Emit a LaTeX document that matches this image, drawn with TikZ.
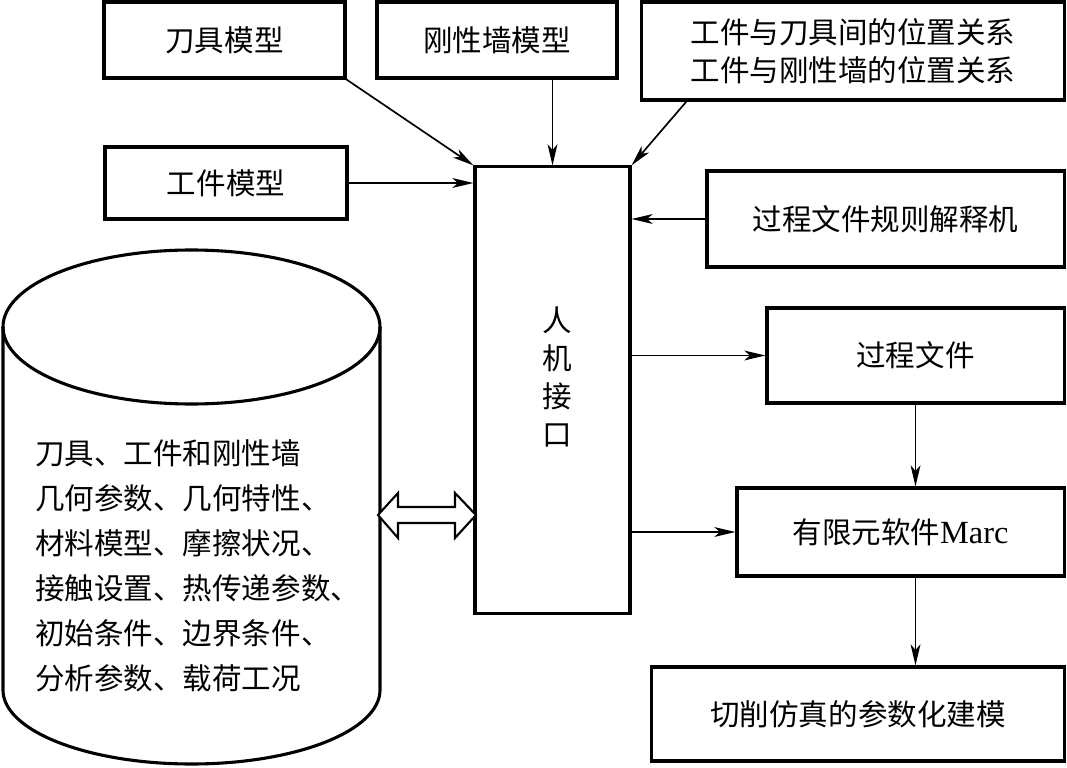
\documentclass[tikz,border=0pt]{standalone}
\usepackage{fontspec}
\setmainfont{Noto Sans CJK SC}
\newfontfamily\latin{Liberation Serif}
\usetikzlibrary{arrows.meta}

\tikzset{
  box/.style={draw, line width=2.2pt, inner sep=0pt, align=center,
    font=\fontsize{21}{27}\selectfont},
  link/.style={line width=1.2pt, -{Stealth[length=15pt, width=7pt, inset=4pt]}}
}

\begin{document}
\begin{tikzpicture}[x=0.025cm, y=-0.025cm]
    \useasboundingbox (0,0) rectangle (1067,768);

    \node[box, minimum width=6.025cm, minimum height=1.9cm]  (tool)  at (224.5, 40)  {刀具模型};
    \node[box, minimum width=6cm,     minimum height=1.9cm]  (wall)  at (497, 40)    {刚性墙模型};
    \node[box, minimum width=10.55cm, minimum height=2.45cm] (rel)   at (853, 51)    {工件与刀具间的位置关系\\工件与刚性墙的位置关系};
    \node[box, minimum width=6.05cm,  minimum height=1.8cm]  (work)  at (226, 183)   {工件模型};
    \node[box, minimum width=3.875cm, minimum height=11.15cm] (hmi)  at (552.5, 390) {};
    \node[font=\fontsize{21}{27}\selectfont, align=center] (hmitext) at (557, 377) {人\\机\\接\\口};
    \node[box, minimum width=8.925cm, minimum height=2.4cm]  (rule)  at (885.5, 219) {过程文件规则解释机};
    \node[box, minimum width=7.425cm, minimum height=2.375cm] (proc) at (915.5, 355.5) {过程文件};
    \node[box, minimum width=8.175cm, minimum height=2.2cm]  (fem)   at (900.5, 532) {有限元软件{\latin\fontsize{23}{27}\selectfont Marc}};
    \node[box, minimum width=10.3cm,  minimum height=2.35cm] (model) at (858, 714)   {切削仿真的参数化建模};

    % database
    \draw[line width=2.2pt] (191.5, 327) ellipse [x radius=188.5, y radius=77];
    \draw[line width=2.2pt] (3, 327) -- (3, 690)
      arc [start angle=180, end angle=0, x radius=188.5, y radius=74] -- (380, 327);
    \node[anchor=west, align=left, inner sep=0pt, font=\fontsize{21}{32}\selectfont] (data) at (35, 566)
      {刀具、工件和刚性墙\\几何参数、几何特性、\\材料模型、摩擦状况、\\接触设置、热传递参数、\\初始条件、边界条件、\\分析参数、载荷工况};

    \draw[line width=1.5pt, fill=white] (378, 515) -- (398, 493) -- (398, 507) -- (455, 507) -- (455, 493)
      -- (476, 515) -- (455, 538) -- (455, 523) -- (398, 523) -- (398, 538) -- cycle;

    \draw[link] (tool.south east) -- (hmi.north west);
    \draw[link] (wall.south -| hmi.north) -- (hmi.north);
    \draw[link] ([xshift=1.15cm]rel.south west) -- (hmi.north east);
    \draw[link] (work.east) -- (hmi.west |- work.east);
    \draw[link] (rule.west) -- (hmi.east |- rule.west);
    \draw[link] (hmi.east |- proc.west) -- (proc.west);
    \draw[link] (hmi.east |- fem.west) -- (fem.west);
    \draw[link] (proc.south) -- (proc.south |- fem.north);
    \draw[link] (fem.south -| proc.south) -- (model.north -| proc.south);
  \end{tikzpicture}
\end{document}
